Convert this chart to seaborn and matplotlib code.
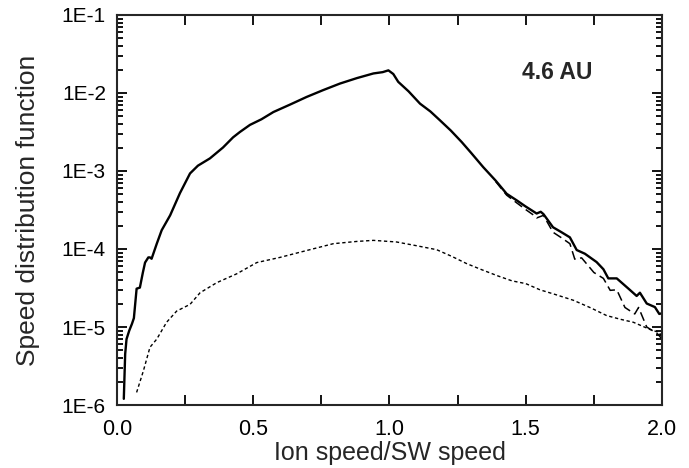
import numpy as np
import pandas as pd
import matplotlib
matplotlib.use("Agg")
import matplotlib.pyplot as plt
import matplotlib.ticker as mticker
import seaborn as sns

# solid curve (total)
solid_x = [0.025, 0.030, 0.035, 0.045, 0.055, 0.062, 0.072, 0.084, 0.095, 0.103,
           0.115, 0.121, 0.127, 0.146, 0.164, 0.195, 0.231, 0.268, 0.297, 0.341,
           0.389, 0.426, 0.451, 0.488, 0.530, 0.574, 0.635, 0.696, 0.757, 0.818,
           0.880, 0.941, 0.975, 0.996, 1.014, 1.032, 1.070, 1.112, 1.150, 1.185,
           1.225, 1.265, 1.300, 1.344, 1.390, 1.430, 1.467, 1.500, 1.540, 1.555,
           1.565, 1.600, 1.630, 1.662, 1.687, 1.717, 1.760, 1.785, 1.803, 1.834,
           1.877, 1.907, 1.919, 1.944, 1.974, 1.990, 2.000]
solid_y = [1.2e-6, 4.5e-6, 7e-6, 9e-6, 1.1e-5, 1.3e-5, 3.1e-5, 3.2e-5, 5.0e-5, 6.7e-5,
           7.8e-5, 7.8e-5, 7.5e-5, 1.17e-4, 1.74e-4, 2.7e-4, 5.2e-4, 9.3e-4, 1.17e-3, 1.45e-3,
           2.0e-3, 2.7e-3, 3.16e-3, 3.9e-3, 4.6e-3, 5.7e-3, 7.1e-3, 8.9e-3, 1.09e-2, 1.32e-2,
           1.55e-2, 1.78e-2, 1.85e-2, 1.95e-2, 1.75e-2, 1.39e-2, 1.05e-2, 7.3e-3, 5.8e-3, 4.47e-3,
           3.3e-3, 2.35e-3, 1.7e-3, 1.12e-3, 7.5e-4, 5.1e-4, 4.2e-4, 3.5e-4, 2.85e-4, 3.0e-4,
           2.8e-4, 1.9e-4, 1.65e-4, 1.41e-4, 9.7e-5, 8.7e-5, 6.8e-5, 5.5e-5, 4.2e-5, 4.2e-5,
           3.1e-5, 2.5e-5, 2.75e-5, 2.0e-5, 1.8e-5, 1.47e-5, 1.5e-5]

# dashed curve (tail where it leaves the solid one)
dash_x = [1.390, 1.430, 1.467, 1.500, 1.530, 1.540, 1.565, 1.600, 1.630, 1.662,
          1.680, 1.705, 1.750, 1.785, 1.810, 1.834, 1.864, 1.900, 1.914, 1.944,
          1.967, 1.985, 2.000]
dash_y = [7.3e-4, 4.9e-4, 3.9e-4, 3.2e-4, 2.7e-4, 2.5e-4, 2.7e-4, 1.64e-4, 1.4e-4, 1.17e-4,
          7.4e-5, 7.7e-5, 5.0e-5, 4.2e-5, 2.95e-5, 3.0e-5, 1.78e-5, 1.47e-5, 1.78e-5, 1.0e-5,
          8.9e-6, 8.1e-6, 7.0e-6]

# dotted curve
dot_x = [0.072, 0.097, 0.121, 0.146, 0.182, 0.219, 0.268, 0.305, 0.366, 0.439,
         0.513, 0.598, 0.672, 0.794, 0.880, 0.941, 1.026, 1.100, 1.173, 1.230,
         1.283, 1.340, 1.399, 1.450, 1.500, 1.552, 1.610, 1.675, 1.740, 1.797,
         1.850, 1.895, 1.956, 1.990, 2.000]
dot_y = [1.45e-6, 2.75e-6, 5.5e-6, 7e-6, 1.15e-5, 1.6e-5, 1.95e-5, 2.75e-5, 3.7e-5, 4.8e-5,
         6.7e-5, 7.8e-5, 9.1e-5, 1.17e-4, 1.25e-4, 1.29e-4, 1.23e-4, 1.1e-4, 9.8e-5, 8.0e-5,
         6.5e-5, 5.4e-5, 4.5e-5, 3.9e-5, 3.6e-5, 3.0e-5, 2.6e-5, 2.2e-5, 1.75e-5, 1.4e-5,
         1.25e-5, 1.15e-5, 9.3e-6, 8.5e-6, 7.5e-6]

y_ticks = [1e-6, 1e-5, 1e-4, 1e-3, 1e-2, 1e-1]
x_ticks = [0.0, 0.5, 1.0, 1.5, 2.0]


def main():
    sns.set_style("ticks")
    plt.rcParams["font.family"] = ["Liberation Sans", "DejaVu Sans"]

    fig = plt.figure(figsize=(6.89, 4.68), dpi=100)
    ax = fig.add_axes([0.1698, 0.1346, 0.7910, 0.8334])

    dot = pd.DataFrame({"x": dot_x, "y": dot_y})
    dash = pd.DataFrame({"x": dash_x, "y": dash_y})
    solid = pd.DataFrame({"x": solid_x, "y": solid_y})

    sns.lineplot(data=dot, x="x", y="y", ax=ax, color="black", lw=1.0,
                 linestyle=(0, (2.4, 1.9)), sort=False, estimator=None)
    sns.lineplot(data=dash, x="x", y="y", ax=ax, color="black", lw=1.1,
                 linestyle=(0, (6, 3)), sort=False, estimator=None)
    sns.lineplot(data=solid, x="x", y="y", ax=ax, color="black", lw=1.7,
                 sort=False, estimator=None)

    ax.set_yscale("log")
    ax.set_xlim(0, 2)
    ax.set_ylim(1e-6, 1e-1)
    ax.set_xticks(x_ticks)
    ax.xaxis.set_major_formatter(mticker.FormatStrFormatter("%.1f"))
    ax.xaxis.set_minor_locator(mticker.MultipleLocator(0.25))
    ax.set_yticks(y_ticks)
    ax.yaxis.set_major_formatter(
        mticker.FuncFormatter(lambda v, p: "1E%d" % int(round(np.log10(v)))))
    ax.yaxis.set_minor_locator(mticker.LogLocator(base=10, subs=np.arange(2, 10), numticks=20))
    ax.yaxis.set_minor_formatter(mticker.NullFormatter())

    for s in ax.spines.values():
        s.set_linewidth(1.5)
        s.set_visible(True)
    ax.tick_params(which="both", direction="in", top=True, right=True, width=1.3, colors="black")
    ax.tick_params(axis="x", which="both", length=7, labelsize=15.5, pad=10)
    ax.tick_params(axis="y", which="major", length=7, labelsize=15, pad=8)
    ax.tick_params(axis="y", which="minor", length=4)

    ax.set_xlabel("Ion speed/SW speed", fontsize=18, labelpad=1)
    ax.set_ylabel("Speed distribution function", fontsize=19, labelpad=16)
    ax.text(1.487, 1.85e-2, "4.6 AU", fontsize=16.5, fontweight="bold", ha="left", va="center")

    fig.savefig("out.png", dpi=100)


if __name__ == "__main__":
    main()
